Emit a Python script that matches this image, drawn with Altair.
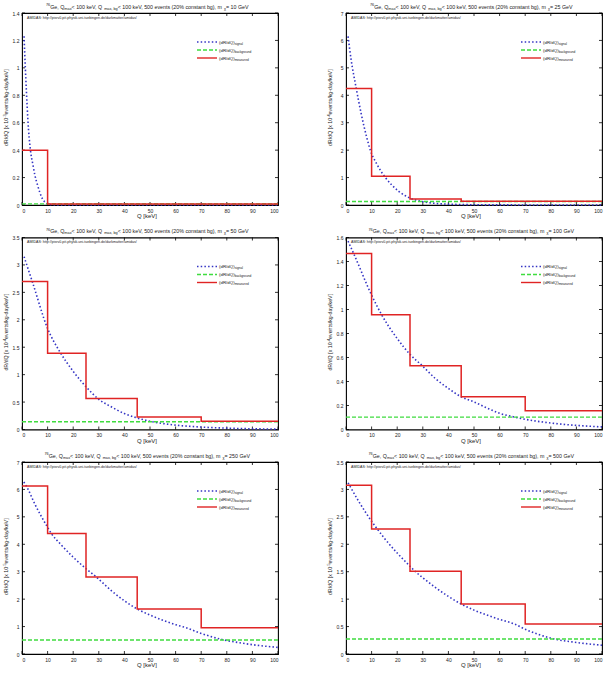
import altair as alt
import pandas as pd

# ---------------- data ----------------
Q_EDGES = [0, 10, 25, 45, 70, 100]
X_TICKS = [0, 10, 20, 30, 40, 50, 60, 70, 80, 90, 100]
MASSES = [10, 25, 50, 100, 250, 500]
EXPONENTS = ["-3", "-4", "-4", "-4", "-5", "-5"]
Y_MAX = [1.4, 7, 3.5, 1.6, 7, 3.5]
Y_TICKS = [
    [0, 0.2, 0.4, 0.6, 0.8, 1, 1.2, 1.4],
    [0, 1, 2, 3, 4, 5, 6, 7],
    [0, 0.5, 1, 1.5, 2, 2.5, 3, 3.5],
    [0, 0.2, 0.4, 0.6, 0.8, 1, 1.2, 1.4, 1.6],
    [0, 1, 2, 3, 4, 5, 6, 7],
    [0, 0.5, 1, 1.5, 2, 2.5, 3, 3.5],
]
MEASURED = [
    [0.40, 0.008, 0.008, 0.008, 0.008],
    [4.25, 1.05, 0.22, 0.14, 0.14],
    [2.70, 1.39, 0.566, 0.23, 0.152],
    [1.466, 0.957, 0.531, 0.273, 0.156],
    [6.125, 4.39, 2.81, 1.64, 0.96],
    [3.075, 2.28, 1.507, 0.911, 0.547],
]
BACKGROUND = [0.008, 0.13, 0.14, 0.103, 0.51, 0.273]
SIGNAL_Q = [
    [0.8, 1.3, 1.8, 2.3, 3.3, 4.3, 5, 6, 7, 8, 9, 10, 12, 15, 20, 30, 50, 100],
    [0.8, 2, 4, 6, 8, 9.5, 12, 15.4, 18, 20.6, 24.6, 30, 35, 40, 50, 60, 80, 100],
    [0.8, 4, 10, 15, 20, 25, 30, 35, 40, 45, 50, 60, 70, 80, 90, 100],
    [0.8, 3, 10, 13.9, 20, 25, 29.8, 35, 40, 45, 50, 55, 60, 66, 70, 80, 90, 100],
    [0.7, 1.7, 5, 10, 11.5, 15, 20, 25, 29, 35, 40, 45, 50, 55, 60, 64, 70, 79, 85, 90, 100],
    [0.8, 5, 10, 12.2, 15, 20, 25, 27, 30, 35, 40, 45, 50, 55, 60, 65.8, 70, 75, 81.4, 90, 100],
]
SIGNAL = [
    [1.23, 1.0, 0.8, 0.62, 0.40, 0.29, 0.22, 0.15, 0.09, 0.045, 0.02, 0.008, 0.002, 0, 0, 0, 0, 0],
    [6.15, 5.3, 4.25, 3.3, 2.5, 2.0, 1.5, 1.0, 0.72, 0.5, 0.27, 0.12, 0.06, 0.03, 0.01, 0.004, 0.001, 0],
    [3.15, 2.7, 1.84, 1.40, 1.06, 0.78, 0.55, 0.41, 0.29, 0.21, 0.15, 0.08, 0.045, 0.025, 0.013, 0.007],
    [1.57, 1.466, 1.12, 0.957, 0.758, 0.626, 0.531, 0.423, 0.342, 0.273, 0.23, 0.18, 0.135, 0.103, 0.085, 0.054, 0.034, 0.022],
    [6.27, 6.125, 5.47, 4.62, 4.39, 4.01, 3.53, 3.11, 2.81, 2.30, 1.94, 1.64, 1.42, 1.23, 1.07, 0.96, 0.75, 0.51, 0.41, 0.34, 0.24],
    [3.12, 2.78, 2.42, 2.28, 2.11, 1.84, 1.60, 1.507, 1.39, 1.21, 1.05, 0.911, 0.80, 0.71, 0.63, 0.547, 0.45, 0.36, 0.273, 0.21, 0.16],
]
AMIDAS = "AMIDAS:  http://pisrv0.pit.physik.uni-tuebingen.de/darkmatter/amidas/"

# ---------------- style ----------------
FONT = "Liberation Sans"
PW, PH = 256, 192
C_SIG = "#3434c4"
C_BG = "#3fdc3f"
C_MEAS = "#e02424"
TXT = "#222222"

W = {' ': 278, '!': 278, '(': 333, ')': 333, ',': 278, '-': 333, '.': 278, '/': 278,
     ':': 278, '<': 584, '=': 584, '>': 584, '[': 278, ']': 278, '%': 889,
     'A': 667, 'B': 667, 'C': 722, 'D': 722, 'E': 667, 'F': 611, 'G': 778, 'H': 722,
     'I': 278, 'J': 500, 'K': 667, 'L': 556, 'M': 833, 'N': 722, 'O': 778, 'P': 667,
     'Q': 778, 'R': 722, 'S': 667, 'T': 611, 'U': 722, 'V': 667, 'W': 944, 'X': 667,
     'Y': 667, 'Z': 611, 'a': 556, 'b': 556, 'c': 500, 'd': 556, 'e': 556, 'f': 278,
     'g': 556, 'h': 556, 'i': 222, 'j': 222, 'k': 500, 'l': 222, 'm': 833, 'n': 556,
     'o': 556, 'p': 556, 'q': 556, 'r': 333, 's': 500, 't': 278, 'u': 556, 'v': 500,
     'w': 722, 'x': 500, 'y': 500, 'z': 500, 'χ': 550}

DUMMY = pd.DataFrame({"a": [0]})


def tw(s, size):
    return sum(W.get(c, 556) for c in s) / 1000.0 * size


def text_layer(t, x, y, fs, angle=0):
    return alt.Chart(DUMMY).mark_text(
        text=t, fontSize=fs, font=FONT, align="left", baseline="alphabetic",
        angle=angle, color=TXT
    ).encode(x=alt.value(x), y=alt.value(y))


def rich(segs, x, y, base, vertical=False, center=True):
    parts = []
    for t, k in segs:
        fs = base if k == "n" else base * 0.72
        parts.append((t, k, fs, tw(t, fs)))
    total = sum(p[3] for p in parts)
    off = 0.0
    out = []
    for t, k, fs, w in parts:
        shift = 0.0 if k == "n" else (-0.42 * base if k == "sup" else 0.28 * base)
        if vertical:
            px = x + shift
            py = y + (total / 2 if center else 0) - off
            out.append(text_layer(t, px, py, fs, 270))
        else:
            px = x - (total / 2 if center else 0) + off
            py = y + shift
            out.append(text_layer(t, px, py, fs, 0))
        off += w
    return out


def panel(i):
    ymax = Y_MAX[i]
    xs = alt.Scale(domain=[0, 100], nice=False, zero=False)
    ys = alt.Scale(domain=[0, ymax], nice=False, zero=False)
    xax = alt.Axis(values=X_TICKS, ticks=False, domain=False, grid=False,
                   labelFontSize=5, labelPadding=3, labelFont=FONT,
                   labelColor=TXT, title=None, format="d")
    yax = alt.Axis(values=Y_TICKS[i], ticks=False, domain=False, grid=False,
                   labelFontSize=5, labelPadding=3, labelFont=FONT,
                   labelColor=TXT, title=None, format="~f")
    X = alt.X("q:Q", scale=xs, axis=xax)
    Y = alt.Y("r:Q", scale=ys, axis=yax)

    sig = pd.DataFrame({"q": SIGNAL_Q[i], "r": SIGNAL[i]})
    bg = pd.DataFrame({"q": [Q_EDGES[0], Q_EDGES[-1]], "r": [BACKGROUND[i]] * 2})
    meas = pd.DataFrame({"q": Q_EDGES, "r": MEASURED[i] + [MEASURED[i][-1]]})
    xt = pd.DataFrame({"q": X_TICKS})
    yt = pd.DataFrame({"r": Y_TICKS[i]})

    layers = [
        alt.Chart(xt).mark_rule(color="black", strokeWidth=0.8).encode(
            x=X, y=alt.value(PH), y2=alt.value(PH - 3)),
        alt.Chart(xt).mark_rule(color="black", strokeWidth=0.8).encode(
            x=X, y=alt.value(0), y2=alt.value(3)),
        alt.Chart(yt).mark_rule(color="black", strokeWidth=0.8).encode(
            y=Y, x=alt.value(0), x2=alt.value(3)),
        alt.Chart(yt).mark_rule(color="black", strokeWidth=0.8).encode(
            y=Y, x=alt.value(PW), x2=alt.value(PW - 3)),
        alt.Chart(sig).mark_line(color=C_SIG, strokeWidth=1.6, strokeDash=[1.5, 2.2],
                                 interpolate="monotone").encode(x=X, y=Y),
        alt.Chart(bg).mark_line(color=C_BG, strokeWidth=1.4, strokeDash=[4, 2]).encode(x=X, y=Y),
        alt.Chart(meas).mark_line(color=C_MEAS, strokeWidth=1.5,
                                  interpolate="step-after").encode(x=X, y=Y),
    ]
    # legend samples
    lx0, lx1, ltx = 175, 195, 197
    rows = [("signal", C_SIG, [1.5, 2.2]), ("background", C_BG, [4, 2]), ("measured", C_MEAS, None)]
    for j, (name, col, dash) in enumerate(rows):
        ly = 29 + 8 * j
        kw = dict(color=col, strokeWidth=1.4)
        if dash:
            kw["strokeDash"] = dash
        layers.append(alt.Chart(DUMMY).mark_rule(**kw).encode(
            x=alt.value(lx0), x2=alt.value(lx1), y=alt.value(ly)))
        layers += rich([("(dR/dQ)", "n"), (name, "sub")], ltx, ly + 1.6, 4.4, center=False)
    # amidas note
    layers.append(text_layer(AMIDAS, 5, 5.5, 3.6))
    # title
    title = [("76", "sup"), ("Ge, Q", "n"), ("max", "sub"), (" < 100 keV, Q", "n"),
             ("max, bg", "sub"), (" < 100 keV, 500 events (20% constant bg), m", "n"),
             ("χ", "sub"), (" = %d GeV" % MASSES[i], "n")]
    layers += rich(title, PW / 2 - 2, -4.5, 5.3)
    # axis titles
    layers += rich([("Q [keV]", "n")], PW / 2 - 3, PH + 13, 6)
    layers += rich([("dR/dQ [x 10", "n"), (EXPONENTS[i], "sup"),
                    (" events/kg-day/keV]", "n")], -14, PH / 2 - 2, 5.3, vertical=True)

    return alt.layer(*layers).properties(width=PW, height=PH)


chart = alt.concat(*[panel(i) for i in range(6)], columns=2,
                   spacing={"row": 32.5, "column": 68}, bounds="flush").properties(
    padding={"left": 2, "top": 2, "right": 0, "bottom": 0},
    background="white",
).configure_view(stroke="black", strokeWidth=1.1)

chart.save("out.html", embed_options={"renderer": "svg", "actions": False})
